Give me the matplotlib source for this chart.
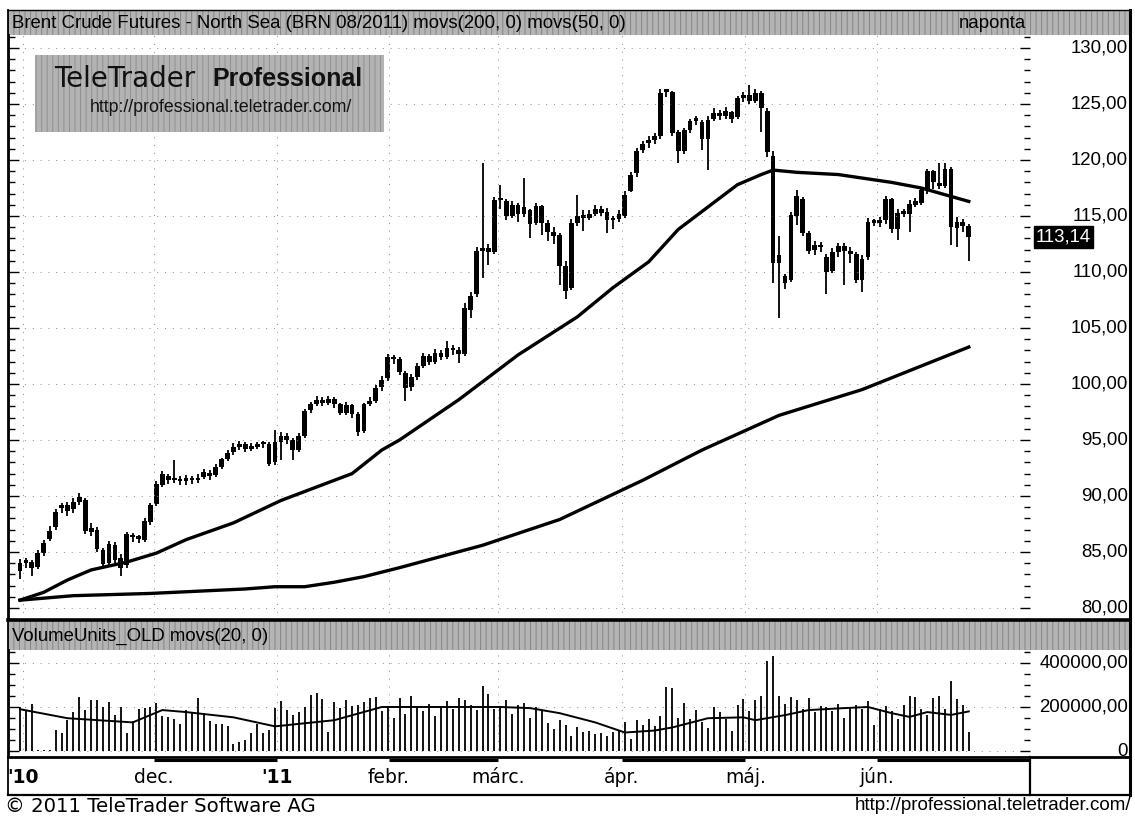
import numpy as np
import matplotlib
matplotlib.use("Agg")
import matplotlib.pyplot as plt
from matplotlib.patches import Rectangle
from matplotlib.lines import Line2D
from matplotlib.ticker import MultipleLocator
from matplotlib.transforms import blended_transform_factory

W, H = 1135, 816
plt.rcParams['font.family'] = ['Liberation Sans', 'DejaVu Sans']
plt.rcParams['hatch.linewidth'] = 0.7

# daily candles, BRN 08/2011
opens = [83.3, 84.0, 84.1, 83.7, 84.9, 86.2, 87.2, 88.9, 89.2, 88.8,
         89.5, 89.6, 86.8, 87.0, 85.2, 84.0, 85.6, 84.5, 83.8, 86.4,
         86.2, 86.1, 87.7, 89.3, 91.0, 91.8, 91.4, 91.5, 91.3, 91.6,
         91.4, 91.7, 92.0, 91.9, 92.6, 93.3, 93.9, 94.4, 94.6, 94.2,
         94.4, 94.6, 94.6, 93.0, 94.8, 95.4, 95.0, 94.1, 95.4, 97.7,
         98.2, 98.6, 98.3, 98.7, 98.2, 97.4, 98.1, 97.3, 95.8, 98.2,
         98.5, 99.7, 100.5, 102.4, 102.2, 101.0, 99.7, 100.6, 101.6, 102.5,
         102.0, 102.8, 102.4, 103.2, 103.0, 102.7, 106.6, 108.0, 111.9, 112.1,
         111.8, 116.4, 116.3, 115.0, 116.0, 115.2, 115.5, 114.4, 115.9, 114.4,
         113.6, 113.3, 110.5, 108.6, 114.4, 115.0, 114.8, 115.2, 115.6, 115.4,
         114.6, 114.7, 115.0, 117.2, 118.8, 120.9, 121.5, 121.8, 122.1, 126.1,
         126.1, 122.5, 120.8, 122.7, 123.5, 123.4, 121.9, 123.7, 124.2, 123.9,
         124.3, 123.8, 125.5, 125.8, 125.3, 126.0, 124.4, 120.4, 110.8, 109.6,
         109.3, 115.0, 116.5, 113.5, 112.0, 112.4, 111.3, 110.1, 111.8, 112.3,
         111.9, 111.6, 109.3, 111.3, 114.5, 114.4, 114.6, 116.5, 113.8, 115.3,
         115.2, 116.0, 116.2, 117.2, 119.0, 117.8, 117.7, 119.2, 113.9, 114.5,
         114.1]
highs = [84.4, 84.5, 84.3, 85.2, 86.1, 87.3, 88.8, 89.4, 89.5, 89.8,
         90.3, 89.8, 87.6, 87.2, 85.4, 86.0, 85.9, 84.8, 86.8, 86.7,
         86.5, 88.0, 89.4, 91.3, 92.2, 92.0, 93.2, 91.8, 91.9, 91.8,
         92.0, 92.4, 92.3, 92.9, 93.4, 94.1, 94.7, 94.9, 94.8, 94.7,
         94.8, 94.9, 94.8, 95.9, 95.7, 95.6, 95.2, 95.6, 97.8, 98.4,
         98.9, 98.8, 98.9, 98.8, 98.3, 98.4, 98.2, 97.5, 98.3, 98.8,
         99.9, 100.7, 102.7, 102.6, 102.4, 101.2, 100.9, 101.9, 102.8, 102.7,
         103.1, 103.0, 103.8, 103.5, 103.3, 107.2, 108.2, 112.2, 119.7, 112.5,
         116.7, 117.8, 116.5, 116.3, 116.2, 118.4, 115.6, 116.2, 116.0, 114.6,
         114.0, 113.5, 111.0, 114.7, 116.9, 115.5, 115.5, 116.0, 115.9, 115.7,
         115.0, 115.5, 117.2, 118.9, 121.1, 121.7, 122.1, 122.4, 126.3, 126.3,
         126.2, 122.7, 122.9, 123.7, 123.9, 123.6, 123.9, 124.6, 124.5, 124.7,
         124.4, 125.7, 126.1, 126.7, 126.3, 126.2, 124.6, 120.8, 113.2, 109.8,
         115.4, 117.3, 116.7, 113.7, 112.8, 112.7, 111.6, 112.1, 112.6, 112.6,
         112.2, 111.8, 111.5, 114.8, 114.7, 114.9, 116.8, 116.6, 115.6, 115.6,
         116.4, 116.6, 117.5, 119.2, 119.1, 119.7, 119.7, 119.4, 114.9, 114.7,
         114.3]
lows = [82.6, 83.6, 82.9, 83.5, 84.6, 86.0, 87.0, 88.5, 88.2, 88.5,
        89.2, 86.6, 86.4, 85.0, 83.6, 83.8, 84.0, 82.9, 83.6, 85.9,
        85.8, 85.9, 87.4, 89.1, 90.8, 91.1, 91.2, 91.0, 91.0, 91.1,
        91.2, 91.5, 91.4, 91.7, 92.4, 93.1, 93.7, 94.1, 93.9, 94.0,
        94.2, 94.3, 92.7, 92.8, 93.2, 94.6, 93.2, 93.9, 95.2, 97.4,
        98.0, 98.0, 98.1, 97.9, 97.2, 97.2, 97.0, 95.4, 95.6, 98.0,
        98.3, 99.4, 100.3, 101.8, 100.8, 98.5, 99.4, 100.4, 101.4, 101.7,
        101.8, 102.1, 102.2, 102.6, 101.9, 102.5, 105.9, 107.8, 109.5, 110.6,
        111.6, 115.6, 114.6, 114.8, 114.5, 114.9, 113.0, 114.2, 113.3, 112.8,
        112.5, 108.8, 107.6, 108.4, 114.1, 113.7, 114.6, 115.0, 115.0, 113.5,
        113.8, 114.5, 114.8, 117.1, 118.5, 120.6, 121.1, 121.4, 121.9, 125.6,
        122.1, 119.7, 120.5, 122.4, 123.1, 120.9, 119.1, 123.5, 123.6, 123.7,
        123.3, 123.7, 125.2, 125.0, 125.1, 122.5, 120.3, 109.0, 105.9, 108.5,
        109.1, 114.2, 113.2, 111.6, 111.5, 111.8, 108.0, 109.9, 111.3, 108.8,
        110.8, 109.0, 108.2, 111.1, 114.1, 114.0, 114.3, 113.5, 112.9, 114.9,
        113.6, 115.8, 116.0, 117.0, 117.4, 117.4, 117.5, 112.4, 112.2, 113.6,
        111.0]
closes = [84.0, 84.2, 83.6, 84.9, 85.8, 86.9, 88.6, 89.2, 88.7, 89.5,
          89.9, 86.9, 87.1, 85.3, 83.9, 85.7, 84.3, 83.6, 86.6, 86.3,
          86.2, 87.8, 89.2, 91.1, 92.0, 91.4, 91.5, 91.3, 91.6, 91.4,
          91.6, 92.1, 91.8, 92.6, 93.3, 93.8, 94.4, 94.6, 94.2, 94.4,
          94.5, 94.6, 92.9, 94.8, 95.4, 95.0, 94.1, 95.4, 97.6, 98.2,
          98.6, 98.3, 98.7, 98.2, 97.4, 98.1, 97.3, 95.7, 98.2, 98.5,
          99.6, 100.4, 102.4, 102.2, 101.1, 99.6, 100.6, 101.6, 102.5, 102.0,
          102.8, 102.4, 103.2, 103.0, 102.7, 106.8, 107.9, 111.9, 112.1, 111.8,
          116.4, 116.5, 115.0, 116.0, 115.2, 115.8, 114.3, 115.9, 114.4, 113.6,
          113.2, 110.5, 108.3, 114.4, 115.0, 114.8, 115.2, 115.6, 115.3, 114.6,
          114.7, 115.2, 116.9, 118.7, 120.8, 121.4, 121.8, 122.1, 126.0, 126.2,
          122.4, 120.8, 122.7, 123.5, 123.6, 121.9, 123.6, 124.2, 123.9, 124.4,
          123.7, 125.5, 125.8, 125.3, 126.0, 124.6, 120.7, 110.8, 111.5, 109.0,
          115.1, 116.8, 113.5, 111.9, 112.4, 112.2, 110.0, 111.8, 112.3, 111.9,
          111.6, 109.3, 111.2, 114.5, 114.4, 114.6, 116.5, 113.8, 115.3, 115.2,
          116.1, 116.3, 117.3, 119.0, 118.0, 117.7, 119.2, 114.0, 114.5, 114.1,
          113.14]

# volume in thousand units
volume = [200, 186, 214, 5, 5, 5, 95, 82, 141, 177,
          245, 186, 232, 232, 200, 223, 164, 200, 82, 136,
          191, 195, 200, 218, 159, 155, 145, 123, 186, 173,
          241, 173, 136, 123, 123, 114, 32, 41, 50, 82,
          123, 82, 95, 195, 227, 186, 164, 177, 200, 255,
          264, 236, 86, 223, 195, 232, 205, 209, 223, 241,
          245, 180, 205, 150, 240, 170, 250, 195, 180, 215,
          160, 200, 225, 190, 240, 230, 210, 185, 295, 260,
          190, 205, 230, 170, 210, 220, 150, 200, 185, 125,
          100, 140, 120, 70, 110, 85, 90, 75, 80, 70,
          85, 95, 130, 55, 140, 120, 145, 115, 160, 290,
          285, 150, 220, 145, 185, 130, 105, 200, 175, 145,
          90, 210, 235, 180, 230, 250, 410, 430, 250, 215,
          245, 230, 190, 240, 175, 205, 200, 180, 215, 150,
          195, 210, 190, 225, 120, 190, 205, 180, 145, 210,
          250, 245, 190, 165, 240, 250, 190, 320, 235, 210,
          85]

# moving averages as drawn on the chart
ma50_idx = [0, 4, 8, 12, 18, 23, 28, 36, 44, 50, 56, 61, 64, 74, 84, 94,
            100, 106, 111, 117, 121, 125, 127, 131, 138, 147, 152, 156, 160]
ma50 = [80.7, 81.4, 82.5, 83.4, 84.1, 84.9, 86.1, 87.6, 89.6, 90.8, 92.0,
        94.1, 95.0, 98.6, 102.6, 106.0, 108.6, 110.9, 113.8, 116.2, 117.8,
        118.7, 119.1, 118.9, 118.7, 118.0, 117.5, 116.9, 116.3]
ma200_idx = [0, 9, 22, 30, 38, 43, 48, 53, 58, 64, 78, 91, 105, 115, 128, 142, 160]
ma200 = [80.7, 81.1, 81.3, 81.5, 81.7, 81.9, 81.9, 82.3, 82.8, 83.6, 85.6,
         87.9, 91.4, 94.1, 97.2, 99.5, 103.3]
vma_idx = [0, 8, 19, 24, 28, 36, 43, 53, 61, 67, 81, 86, 91, 97, 102, 107,
           110, 116, 122, 124, 129, 133, 139, 143, 147, 150, 153, 157, 160]
vma = [190, 149, 130, 186, 177, 153, 112, 140, 200, 200, 200, 195, 172, 130,
       84, 93, 107, 149, 153, 140, 163, 186, 195, 200, 172, 155, 177, 164, 180]

month_labels = ["'10", "dec.", "'11", "febr.", "márc.", "ápr.", "máj.", "jún."]
month_pos = [0.5, 22.6, 43.3, 62.2, 80.6, 101.5, 122.3, 144.5]
price_ticks = [80, 85, 90, 95, 100, 105, 110, 115, 120, 125, 130]
vol_ticks = [0, 200, 400]
last_price = 113.14

title = "Brent Crude Futures - North Sea (BRN 08/2011) movs(200, 0) movs(50, 0)"
vol_title = "VolumeUnits_OLD movs(20, 0)"


def rect(x0, y0, x1, y1):
    return [x0 / W, 1 - y1 / H, (x1 - x0) / W, (y1 - y0) / H]


def fy(y):
    return 1 - y / H


def band(r, text=None, right=None):
    a = fig.add_axes(r)
    a.set_axis_off()
    a.add_patch(Rectangle((0, 0), 1, 1, transform=a.transAxes, facecolor='#b4b4b4',
                          edgecolor='#858585', hatch='|||', lw=0))
    if text:
        a.text(0.004, 0.45, text, va='center', ha='left', fontsize=13.4)
    if right:
        a.text(0.907, 0.45, right, va='center', ha='right', fontsize=13.4)
    return a


def fmt(v):
    return f"{v:.2f}".replace('.', ',')


fig = plt.figure(figsize=(W / 100, H / 100), dpi=100)
fig.patch.set_facecolor('white')

xmin, xmax = (9 - 20) / 5.93, (1030 - 20) / 5.93
idx = np.arange(len(closes))
o, hi, lo, c = map(np.array, (opens, highs, lows, closes))

# title bars
band(rect(8, 10, 1130, 35), title, 'naponta')
band(rect(8, 620, 1130, 650), vol_title)

# price panel
ax = fig.add_axes(rect(9, 35, 1030, 620))
ax.set_xlim(xmin, xmax)
ax.set_ylim(80 - (620 - 608) / 11.2, 80 + (608 - 35) / 11.2)
ax.vlines(idx, lo, hi, color='k', lw=1.3)
ax.bar(idx, np.maximum(np.abs(c - o), 0.25), bottom=np.minimum(o, c),
       width=0.8, color='k', lw=0)
ax.plot(ma50_idx, ma50, color='k', lw=2.4)
ax.plot(ma200_idx, ma200, color='k', lw=2.4)
ax.set_yticks(price_ticks)
ax.set_xticks(month_pos)
ax.yaxis.set_minor_locator(MultipleLocator(1))
ax.grid(True, color='#8a8a8a', lw=0.7, linestyle=(0, (1, 7)))
ax.tick_params(axis='y', which='both', direction='in', left=True, right=True,
               labelleft=False, labelright=False, width=1)
ax.tick_params(axis='y', which='major', length=7)
ax.tick_params(axis='y', which='minor', length=4)
ax.tick_params(axis='x', length=0, labelbottom=False)
for s in ('top', 'right', 'bottom'):
    ax.spines[s].set_visible(False)
ax.spines['left'].set_linewidth(1.3)
tr = blended_transform_factory(fig.transFigure, ax.transData)
for p in price_ticks:
    ax.text(1128 / W, p, fmt(p), transform=tr, ha='right', va='center', fontsize=13.4)
ax.text(1036 / W, last_price, fmt(last_price), transform=tr, ha='left', va='center',
        fontsize=13.4, color='white',
        bbox=dict(facecolor='black', edgecolor='black', boxstyle='square,pad=0.12'))

# logo
lg = fig.add_axes(rect(35, 55, 384, 132))
lg.set_axis_off()
lg.add_patch(Rectangle((0, 0), 1, 1, transform=lg.transAxes, facecolor='#b3b3b3',
                       edgecolor='#909090', hatch='|||', lw=0))
fig.text(54 / W, fy(79), "TeleTrader", fontsize=20, va='center', ha='left',
         family='DejaVu Sans', color='#111')
fig.text(212 / W, fy(79), "Professional", fontsize=18, va='center', ha='left',
         fontweight='bold', color='#111')
fig.text(90 / W, fy(108), "http://professional.teletrader.com/", fontsize=12.8,
         va='center', ha='left', color='#111')

# volume panel
av = fig.add_axes(rect(9, 650, 1030, 757))
av.set_xlim(xmin, xmax)
av.set_ylim(-(757 - 751) * 4.545, (751 - 650) * 4.545)
av.vlines(idx, 0, volume, color='k', lw=1.3)
av.plot(vma_idx, vma, color='k', lw=1.4)
av.set_yticks(vol_ticks)
av.set_xticks(month_pos)
av.yaxis.set_minor_locator(MultipleLocator(50))
av.grid(True, color='#8a8a8a', lw=0.7, linestyle=(0, (1, 7)))
av.tick_params(axis='y', which='both', direction='in', left=True, right=True,
               labelleft=False, labelright=False, width=1)
av.tick_params(axis='y', which='major', length=7)
av.tick_params(axis='y', which='minor', length=4)
av.tick_params(axis='x', length=0, labelbottom=False)
for s in ('top', 'right', 'bottom'):
    av.spines[s].set_visible(False)
av.spines['left'].set_linewidth(1.3)
trv = blended_transform_factory(fig.transFigure, av.transData)
for v in vol_ticks:
    lab = '0' if v == 0 else fmt(v * 1000)
    av.text(1128 / W, v, lab, transform=trv, ha='right', va='center', fontsize=13.4)

# date strip
ad = fig.add_axes(rect(9, 757, 1030, 795))
ad.set_xlim(xmin, xmax)
ad.set_ylim(0, 1)
ad.set_axis_off()
for pos, lab in zip(month_pos, month_labels):
    bold = lab.startswith("'")
    ad.text(pos, 0.47, lab, ha='center', va='center', fontsize=13.5,
            family='DejaVu Sans', fontweight='bold' if bold else 'normal')
for a, b in zip(month_pos[1::2], month_pos[2::2] + [xmax]):
    ad.plot([a, b], [0.93, 0.93], color='k', lw=2.2, solid_capstyle='butt')

# frame lines
frame = [((8, 10), (1130, 10), 1.0), ((8, 10), (8, 795), 1.3),
         ((1130, 10), (1130, 795), 2.2), ((8, 620), (1130, 620), 2.6),
         ((8, 757), (1130, 757), 2.0), ((8, 795), (1130, 795), 1.6),
         ((1030, 757), (1030, 795), 1.6)]
for (x0, y0), (x1, y1), lw in frame:
    fig.add_artist(Line2D([x0 / W, x1 / W], [fy(y0), fy(y1)], transform=fig.transFigure,
                          color='k', lw=lw))

fig.text(5 / W, fy(806), "© 2011 TeleTrader Software AG", fontsize=14.2,
         family='DejaVu Sans', va='center', ha='left')
fig.text(1131 / W, fy(806), "http://professional.teletrader.com/", fontsize=13.5,
         va='center', ha='right')

fig.savefig("out.png", dpi=100)
